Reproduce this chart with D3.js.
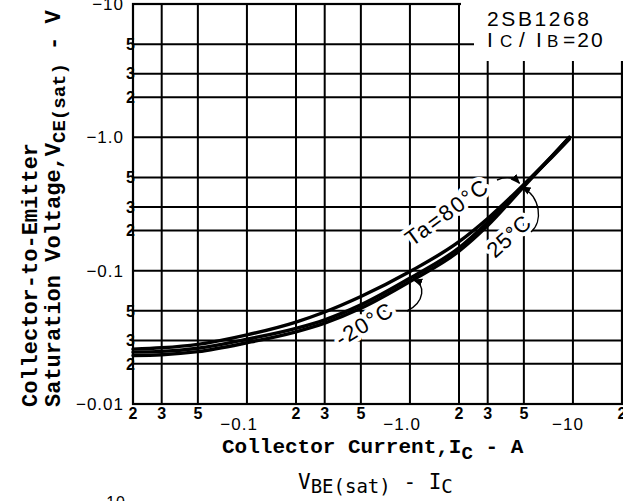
<!DOCTYPE html>
<html><head><meta charset="utf-8">
<script src="https://cdn.jsdelivr.net/npm/d3@7"></script>
<style>body{margin:0;background:#fff}svg{display:block}</style>
</head><body><svg id="c" width="623" height="501" xmlns="http://www.w3.org/2000/svg"></svg>
<script>
// ---- data (magnitudes; the device is PNP so labels carry a minus sign) ----
const currentA = [0.02, 0.03, 0.05, 0.1, 0.2, 0.3, 0.5, 1, 2, 3, 5, 7, 9.5];
const vce80  = [0.0258, 0.0264, 0.0280, 0.0330, 0.0412, 0.0490, 0.0640, 0.0985, 0.165, 0.2465, 0.443, 0.660, 0.972];
const vce25  = [0.0245, 0.0248, 0.0262, 0.0306, 0.0369, 0.0428, 0.0554, 0.0879, 0.1485, 0.231, 0.440, 0.670, 1.00];
const vceM20 = [0.0231, 0.0234, 0.0247, 0.0288, 0.0348, 0.0404, 0.0522, 0.0828, 0.140, 0.2178, 0.428, 0.665, 1.00];
const seriesNames = ["Ta=80°C", "25°C", "-20°C"];

const xTickValues = [0.02, 0.03, 0.05, 0.1, 0.2, 0.3, 0.5, 1, 2, 3, 5, 10, 20];
const xTickLabels = ["2", "3", "5", "−0.1", "2", "3", "5", "−1.0", "2", "3", "5", "−10", "2"];
const yTickValues = [0.01, 0.02, 0.03, 0.05, 0.1, 0.2, 0.3, 0.5, 1, 2, 3, 5, 10];
const yTickLabels = ["−0.01", "2", "3", "5", "−0.1", "2", "3", "5", "−1.0", "2", "3", "5", "−10"];
const decadeValues = [0.01, 0.1, 1, 10];

// ---- scales ----
const svg = d3.select("#c");
svg.append("rect").attr("x", 0).attr("y", 0).attr("width", 623).attr("height", 501).attr("fill", "#ffffff");
const x = d3.scaleLog().domain([0.02, 20]).range([133, 622]);
const y = d3.scaleLog().domain([0.01, 10]).range([404, 4]);
const isDecade = v => decadeValues.some(d => Math.abs(d - v) < 1e-9);

// ---- grid ----
const grid = svg.append("g");
grid.selectAll("line.v").data(xTickValues).join("line").attr("class", "v")
  .attr("x1", d => x(d)).attr("x2", d => x(d)).attr("y1", y(10)).attr("y2", y(0.01))
  .attr("stroke", "#000").attr("stroke-width", 2);
grid.selectAll("line.h").data(yTickValues).join("line").attr("class", "h")
  .attr("y1", d => y(d)).attr("y2", d => y(d)).attr("x1", x(0.02)).attr("x2", x(20))
  .attr("stroke", "#000").attr("stroke-width", 2);
// frame
svg.append("rect").attr("x", x(0.02)).attr("y", y(10))
  .attr("width", x(20) - x(0.02)).attr("height", y(0.01) - y(10))
  .attr("fill", "none").attr("stroke", "#000").attr("stroke-width", 2.2);

// white box for device label
svg.append("rect").attr("x", 461).attr("y", 0).attr("width", 162).attr("height", 9).attr("fill", "#fff");
svg.append("rect").attr("x", 474).attr("y", 0).attr("width", 149).attr("height", 61).attr("fill", "#fff");

// ---- tick labels ----
const sans = "'Liberation Sans', Arial, sans-serif";
svg.append("g").selectAll("text").data(yTickValues).join("text")
  .attr("x", (d) => isDecade(d) ? 124 : 135)
  .attr("y", d => y(d))
  .attr("dy", "0.36em")
  .attr("text-anchor", "end")
  .attr("font-family", sans)
  .attr("font-size", d => isDecade(d) ? 17 : 16)
  .attr("font-weight", d => isDecade(d) ? "normal" : "bold")
  .attr("letter-spacing", d => isDecade(d) ? 1 : 0)
  .text((d, i) => yTickLabels[i]);

svg.append("g").selectAll("text").data(xTickValues).join("text")
  .attr("x", d => isDecade(d) ? x(d) + 11 : x(d))
  .attr("y", d => isDecade(d) ? 430 : 419)
  .attr("text-anchor", d => isDecade(d) ? "end" : "middle")
  .attr("font-family", sans)
  .attr("font-size", d => isDecade(d) ? 17 : 16)
  .attr("font-weight", d => isDecade(d) ? "normal" : "bold")
  .attr("letter-spacing", d => isDecade(d) ? 1 : 0)
  .text((d, i) => xTickLabels[i]);

// ---- axis titles ----
const mono = "'Liberation Mono', 'DejaVu Sans Mono', monospace";
const xt = svg.append("text").attr("x", 222).attr("y", 453)
  .attr("font-family", mono).attr("font-weight", "bold").attr("font-size", 21);
xt.append("tspan").text("Collector Current,I");
xt.append("tspan").attr("font-size", 19).attr("dy", 6).text("C");
xt.append("tspan").attr("dy", -6).text(" - A");

svg.append("text").attr("transform", "translate(37,407) rotate(-90)")
  .attr("font-family", mono).attr("font-weight", "bold").attr("font-size", 22)
  .text("Collector-to-Emitter");
const yt2 = svg.append("text").attr("transform", "translate(60,407) rotate(-90)")
  .attr("font-family", mono).attr("font-weight", "bold").attr("font-size", 22);
yt2.append("tspan").text("Saturation Voltage,V");
yt2.append("tspan").attr("font-size", 19).attr("dy", 5).text("CE(sat)");
yt2.append("tspan").attr("dy", -5).text(" - V");

// next chart title (partially visible)
const bt = svg.append("text").attr("x", 298).attr("y", 489)
  .attr("font-family", "'DejaVu Sans Mono', monospace").attr("font-size", 21);
bt.append("tspan").text("V");
bt.append("tspan").attr("font-size", 19).attr("dy", 4).text("BE(sat)");
bt.append("tspan").attr("dy", -4).text(" - I");
bt.append("tspan").attr("font-size", 19).attr("dy", 4).text("C");
svg.append("text").attr("x", 126).attr("y", 508).attr("text-anchor", "end")
  .attr("font-family", sans).attr("font-size", 16).attr("letter-spacing", 1).text("−10");

// ---- device label ----
svg.append("text").attr("x", 487).attr("y", 26).attr("font-family", sans)
  .attr("font-size", 21).attr("letter-spacing", 2.6).text("2SB1268");
const dl = svg.append("text").attr("y", 47).attr("font-family", sans).attr("font-size", 21);
dl.append("tspan").attr("x", 487).text("I");
dl.append("tspan").attr("x", 500).attr("font-size", 17).text("C");
dl.append("tspan").attr("x", 519).text("/");
dl.append("tspan").attr("x", 536).text("I");
dl.append("tspan").attr("x", 547).attr("font-size", 17).text("B");
dl.append("tspan").attr("x", 563).attr("letter-spacing", 2).text("=20");

// ---- annotations (with white knock-out halo) ----
const defs = svg.append("defs");
defs.append("marker").attr("id", "ah").attr("viewBox", "0 0 10 10")
  .attr("refX", 9).attr("refY", 5).attr("markerWidth", 7).attr("markerHeight", 7)
  .attr("orient", "auto").append("path").attr("d", "M0,1 L10,5 L0,9 z").attr("fill", "#000");

function label(txt, tx, ty, ang, ls) {
  svg.append("text").attr("transform", `translate(${tx},${ty}) rotate(${ang})`)
    .attr("font-family", sans).attr("font-size", 22).attr("letter-spacing", ls)
    .attr("stroke", "#fff").attr("stroke-width", 8).attr("paint-order", "stroke")
    .attr("stroke-linejoin", "round").attr("fill", "#000").text(txt);
}
label(seriesNames[0], 412, 247, -36, 1.8);
label(seriesNames[1], 495, 259, -42, 0.5);
label(seriesNames[2], 341, 347, -31, 1.5);

const arrows = [
  `M497,180 Q511,174 ${x(4.7)},${y(0.445) - 1}`,
  `M531,232 C543,222 541,197 ${x(4.85)},${y(0.44) + 2}`,
  `M407,311 C425,302 426,284 ${x(1.05)},${y(0.087) + 1}`
];
svg.append("g").selectAll("path").data(arrows).join("path")
  .attr("d", d => d).attr("fill", "none").attr("stroke", "#000")
  .attr("stroke-width", 1.4).attr("marker-end", "url(#ah)");

// ---- curves ----
const line = d3.line().x(d => x(d[0])).y(d => y(d[1])).curve(d3.curveMonotoneX);
[vce80, vce25, vceM20].forEach(vals => {
  svg.append("path").datum(currentA.map((c, i) => [c, vals[i]]))
    .attr("d", line).attr("fill", "none").attr("stroke", "#000")
    .attr("stroke-width", 3.4).attr("stroke-linecap", "round");
});
</script></body></html>
